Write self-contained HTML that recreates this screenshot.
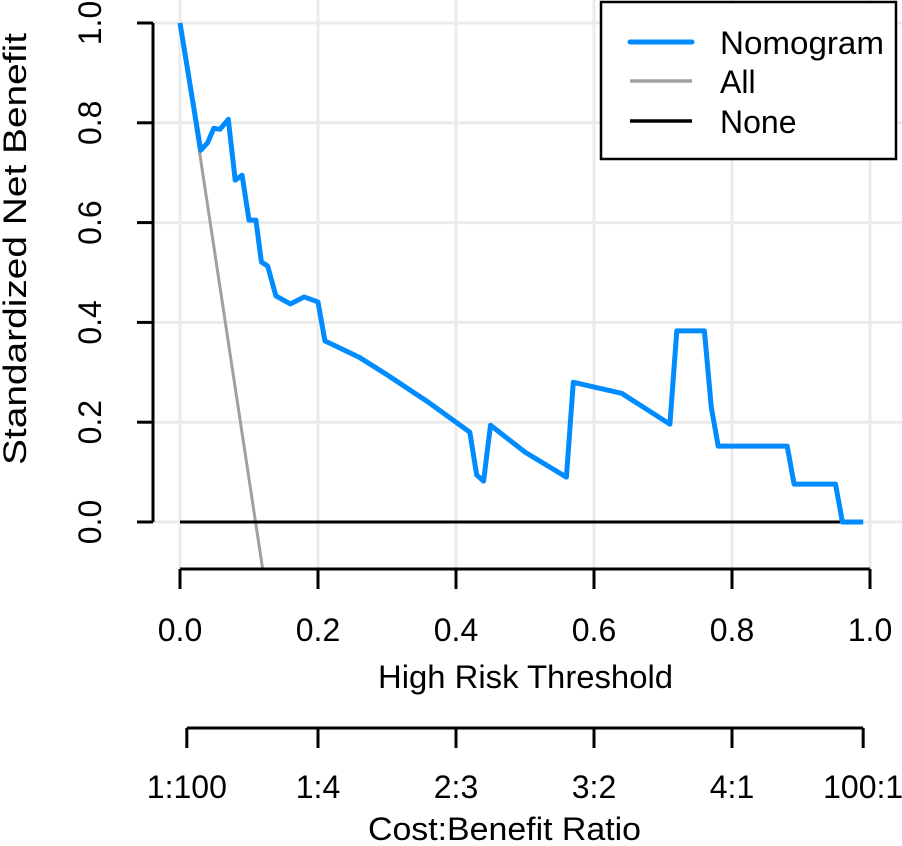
<!DOCTYPE html>
<html><head><meta charset="utf-8"><style>
html,body{margin:0;padding:0;background:#fff;}
svg{display:block;font-family:"Liberation Sans",Arial,sans-serif;}
</style></head><body>
<svg id="chart" width="902" height="846" viewBox="0 0 902 846">
<g id="grid"></g>
<g id="series"></g>
<g id="axes"></g>
<g>
<rect x="601" y="2" width="295" height="157" fill="#fff" stroke="#000" stroke-width="2.5"/>
<line x1="630" y1="42" x2="692" y2="42" stroke="#008CFF" stroke-width="5" stroke-linecap="round"/>
<text x="720" y="54" font-size="32" textLength="164" lengthAdjust="spacingAndGlyphs">Nomogram</text>
<line x1="630" y1="81" x2="692" y2="81" stroke="#A0A0A0" stroke-width="3.5"/>
<text x="720" y="93" font-size="32">All</text>
<line x1="630" y1="121" x2="692" y2="121" stroke="#000" stroke-width="3.5"/>
<text x="720" y="133" font-size="32">None</text>
</g>
</svg>
<script>
const thresholds=[0,0.03,0.04,0.049,0.058,0.07,0.08,0.09,0.10,0.11,0.118,0.127,0.139,0.16,0.18,0.2,0.21,0.26,0.3,0.36,0.42,0.43,0.44,0.45,0.5,0.56,0.57,0.64,0.71,0.72,0.76,0.77,0.78,0.88,0.89,0.95,0.96,0.99];
const nomogram=[1,0.745,0.76,0.789,0.787,0.807,0.685,0.695,0.605,0.605,0.521,0.513,0.453,0.437,0.451,0.441,0.363,0.33,0.295,0.24,0.18,0.094,0.082,0.194,0.14,0.09,0.28,0.258,0.196,0.383,0.383,0.23,0.152,0.152,0.076,0.076,0,0];
const allX=[0,0.12];
const allY=[1,-0.096];
const noneX=[0,0.99];
const noneY=[0,0];
const xTicks=[0,0.2,0.4,0.6,0.8,1.0];
const xTickLabels=["0.0","0.2","0.4","0.6","0.8","1.0"];
const yTicks=[0,0.2,0.4,0.6,0.8,1.0];
const yTickLabels=["0.0","0.2","0.4","0.6","0.8","1.0"];
const cbTicks=[0.0099,0.2,0.4,0.6,0.8,0.9901];
const cbLabels=["1:100","1:4","2:3","3:2","4:1","100:1"];

const NS="http://www.w3.org/2000/svg";
const X=v=>180+v*690, Y=v=>522-v*499;
function mk(tag,attrs,parent,txt){const e=document.createElementNS(NS,tag);for(const k in attrs)e.setAttribute(k,attrs[k]);if(txt!==undefined)e.textContent=txt;parent.appendChild(e);return e;}
const grid=document.getElementById('grid'),series=document.getElementById('series'),axes=document.getElementById('axes');
xTicks.forEach(t=>{const l=mk('line',{x1:X(t),x2:X(t),y1:0,y2:568,stroke:'#EBEBEB','stroke-width':3},grid);

});
yTicks.forEach(t=>{const l=mk('line',{x1:153,x2:902,y1:Y(t),y2:Y(t),stroke:'#EBEBEB','stroke-width':3},grid);

});
const clip=mk('clipPath',{id:'pc'},series);mk('rect',{x:153,y:0,width:749,height:569},clip);
const pts=(xs,ys)=>xs.map((x,i)=>X(x)+','+Y(ys[i])).join(' ');
const allL=mk('polyline',{points:pts(allX,allY),fill:'none',stroke:'#A0A0A0','stroke-width':3,'clip-path':'url(#pc)'},series);


const noneL=mk('polyline',{points:pts(noneX,noneY),fill:'none',stroke:'#000','stroke-width':3},series);


const nomL=mk('polyline',{points:pts(thresholds,nomogram),fill:'none',stroke:'#008CFF','stroke-width':5,'stroke-linejoin':'round'},series);


// y axis
const ya=mk('line',{x1:153,x2:153,y1:Y(1),y2:Y(0),stroke:'#000','stroke-width':3},axes);


yTicks.forEach((t,i)=>{const l=mk('line',{x1:137,x2:153,y1:Y(t),y2:Y(t),stroke:'#000','stroke-width':3},axes);


const tx=mk('text',{x:0,y:0,'font-size':32,'text-anchor':'middle',transform:`translate(101,${Y(t)}) rotate(-90)`},axes,yTickLabels[i]);

});
const yt=mk('text',{x:-216,y:0,'font-size':32,textLength:432,lengthAdjust:'spacingAndGlyphs',transform:'translate(26,249) rotate(-90)'},axes,'Standardized Net Benefit');


// x axis
const xa=mk('line',{x1:X(0),x2:X(1),y1:569,y2:569,stroke:'#000','stroke-width':3},axes);


xTicks.forEach((t,i)=>{const l=mk('line',{x1:X(t),x2:X(t),y1:569,y2:589,stroke:'#000','stroke-width':3},axes);


const tx=mk('text',{x:X(t),y:641,'font-size':32,'text-anchor':'middle'},axes,xTickLabels[i]);

});
const xt=mk('text',{x:378,y:688,'font-size':32,textLength:295,lengthAdjust:'spacingAndGlyphs'},axes,'High Risk Threshold');


// cost-benefit axis
const ca=mk('line',{x1:X(cbTicks[0]),x2:X(cbTicks[5]),y1:728,y2:728,stroke:'#000','stroke-width':3},axes);


cbTicks.forEach((t,i)=>{const l=mk('line',{x1:X(t),x2:X(t),y1:728,y2:748,stroke:'#000','stroke-width':3},axes);


const tx=mk('text',{x:X(t),y:798,'font-size':32,'text-anchor':'middle'},axes,cbLabels[i]);

});
const ct=mk('text',{x:368,y:840,'font-size':32,textLength:273,lengthAdjust:'spacingAndGlyphs'},axes,'Cost:Benefit Ratio');


</script>
</body></html>
